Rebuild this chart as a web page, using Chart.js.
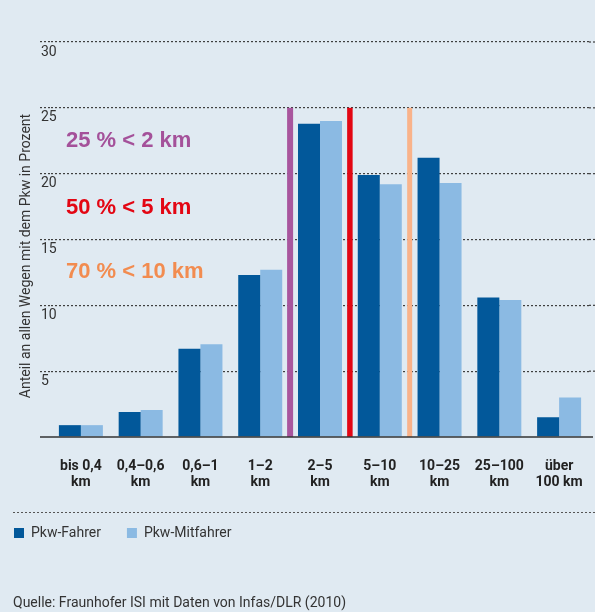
<!DOCTYPE html>
<html>
<head>
    <meta charset="utf-8">
    <title>Wegelängen Pkw</title>
    <script src="https://cdn.jsdelivr.net/npm/chart.js"></script>
    <style>
        html, body {
            margin: 0;
            padding: 0;
            background: #e0eaf2;
        }
        body {
            width: 595px;
            height: 612px;
            position: relative;
            overflow: hidden;
            font-family: Roboto, sans-serif;
        }
        .chart-container {
            position: absolute;
            left: 0;
            top: 0;
            width: 595px;
            height: 612px;
        }
        .source {
            position: absolute;
            left: 13px;
            top: 594px;
            font-size: 14px;
            color: #333;
        }
    </style>
</head>
<body>
    <div class="chart-container">
        <canvas id="myChart"></canvas>
    </div>
    <div class="source">Quelle: Fraunhofer ISI mit Daten von Infas/DLR (2010)</div>
    <script>
        // Werte
        const categories = [
            ['bis 0,4', 'km'], ['0,4–0,6', 'km'], ['0,6–1', 'km'], ['1–2', 'km'],
            ['2–5', 'km'], ['5–10', 'km'], ['10–25', 'km'], ['25–100', 'km'], ['über', '100 km']
        ];
        const fahrer    = [0.9, 1.9, 6.7, 12.3, 23.8, 19.9, 21.2, 10.6, 1.5];
        const mitfahrer = [0.9, 2.05, 7.05, 12.7, 24.0, 19.2, 19.3, 10.4, 3.0];
        const yTicks = [0, 5, 10, 15, 20, 25, 30];

        // Schwellen: Linie nach Kategorie-Index, Text
        const thresholdAfter  = [3, 4, 5];
        const thresholdLabels = ['25 % < 2 km', '50 % < 5 km', '70 % < 10 km'];
        const thresholdTop = 25;

        const lineColors = ['#a8569e', '#e30613', '#f9b38a'];
        const textColors = ['#a4519a', '#e30613', '#f28c50'];
        const textLevels = [22.5, 17.4, 12.5];

        const decorations = {
            id: 'decorations',
            beforeDatasetsDraw(chart) {
                // Gitterlinien bis zum rechten Rand verlängern
                const {ctx, chartArea, scales: {y}} = chart;
                ctx.save();
                ctx.strokeStyle = '#3f3f3f';
                ctx.lineWidth = 1.2;
                ctx.setLineDash([2, 2]);
                yTicks.filter(v => v > 0).forEach(v => {
                    const py = y.getPixelForValue(v);
                    ctx.beginPath();
                    ctx.moveTo(chartArea.right, py);
                    ctx.lineTo(595, py);
                    ctx.stroke();
                });
                ctx.restore();
            },
            afterDatasetsDraw(chart) {
                const {ctx, chartArea, scales: {x, y}} = chart;
                const y0 = y.getPixelForValue(0);
                const yTop = y.getPixelForValue(thresholdTop);
                ctx.save();
                // Schwellenlinien
                const widths = [6, 5.5, 5];
                thresholdAfter.forEach((idx, i) => {
                    const px = (x.getPixelForValue(idx) + x.getPixelForValue(idx + 1)) / 2;
                    ctx.fillStyle = lineColors[i];
                    ctx.fillRect(px - widths[i] / 2, yTop, widths[i], y0 - yTop);
                });
                // Nulllinie
                ctx.strokeStyle = '#333';
                ctx.lineWidth = 1.5;
                ctx.beginPath();
                ctx.moveTo(40, y0);
                ctx.lineTo(593, y0);
                ctx.stroke();
                // Texte
                ctx.font = 'bold 22px "Liberation Sans", Arial, sans-serif';
                ctx.textAlign = 'left';
                ctx.textBaseline = 'middle';
                thresholdLabels.forEach((t, i) => {
                    ctx.fillStyle = textColors[i];
                    ctx.fillText(t, chartArea.left + 15, y.getPixelForValue(textLevels[i]));
                });
                ctx.restore();
            },
            afterDraw(chart) {
                const {ctx} = chart;
                ctx.save();
                // Achsentitel
                ctx.translate(26, 256);
                ctx.rotate(-Math.PI / 2);
                ctx.font = '14px Roboto, sans-serif';
                ctx.fillStyle = '#333';
                ctx.textAlign = 'center';
                ctx.textBaseline = 'middle';
                ctx.fillText('Anteil an allen Wegen mit dem Pkw in Prozent', 0, 0);
                ctx.restore();
                // gestrichelte Trennlinie
                ctx.save();
                ctx.strokeStyle = '#555';
                ctx.lineWidth = 1;
                ctx.setLineDash([2, 2]);
                ctx.beginPath();
                ctx.moveTo(13, 512.5);
                ctx.lineTo(595, 512.5);
                ctx.stroke();
                ctx.restore();
            }
        };

        const ctx = document.getElementById('myChart').getContext('2d');
        new Chart(ctx, {
            type: 'bar',
            data: {
                labels: categories,
                datasets: [
                    {
                        label: 'Pkw-Fahrer',
                        data: fahrer,
                        backgroundColor: '#02589a',
                        categoryPercentage: 0.736,
                        barPercentage: 1.0
                    },
                    {
                        label: 'Pkw-Mitfahrer',
                        data: mitfahrer,
                        backgroundColor: '#8bbae3',
                        categoryPercentage: 0.736,
                        barPercentage: 1.0
                    }
                ]
            },
            options: {
                responsive: true,
                maintainAspectRatio: false,
                animation: false,
                layout: {
                    padding: { top: 42, right: 6, left: -12, bottom: 62 }
                },
                plugins: {
                    legend: {
                        position: 'bottom',
                        align: 'start',
                        labels: {
                            boxWidth: 10,
                            boxHeight: 10,
                            padding: 26,
                            color: '#333',
                            font: { family: 'Roboto', size: 14 }
                        }
                    },
                    tooltip: { enabled: false }
                },
                scales: {
                    x: {
                        grid: { display: false, drawTicks: false },
                        border: { display: false },
                        ticks: {
                            padding: 21,
                            color: '#222',
                            font: { family: 'Roboto', size: 14, weight: 'bold', lineHeight: 1.143 }
                        },
                        afterFit: (scale) => {
                            scale.height = 63;
                            scale.paddingLeft = 0;
                            scale.paddingRight = 0;
                        }
                    },
                    y: {
                        min: 0,
                        max: 30,
                        afterBuildTicks: (scale) => {
                            scale.ticks = yTicks.map(v => ({ value: v }));
                        },
                        afterFit: (scale) => { scale.width = 63; },
                        grid: {
                            color: (c) => c.tick && c.tick.value === 0 ? 'transparent' : '#3f3f3f',
                            tickColor: (c) => c.tick && c.tick.value === 0 ? 'transparent' : '#3f3f3f',
                            lineWidth: 1.2,
                            tickLength: 11,
                            tickBorderDash: [2, 2]
                        },
                        border: { display: false, dash: [2, 2] },
                        ticks: {
                            mirror: true,
                            padding: -10,
                            labelOffset: 10,
                            color: '#333',
                            font: { family: 'Roboto', size: 14 },
                            callback: (v) => v === 0 ? '' : v
                        }
                    }
                }
            },
            plugins: [decorations]
        });
    </script>
</body>
</html>
